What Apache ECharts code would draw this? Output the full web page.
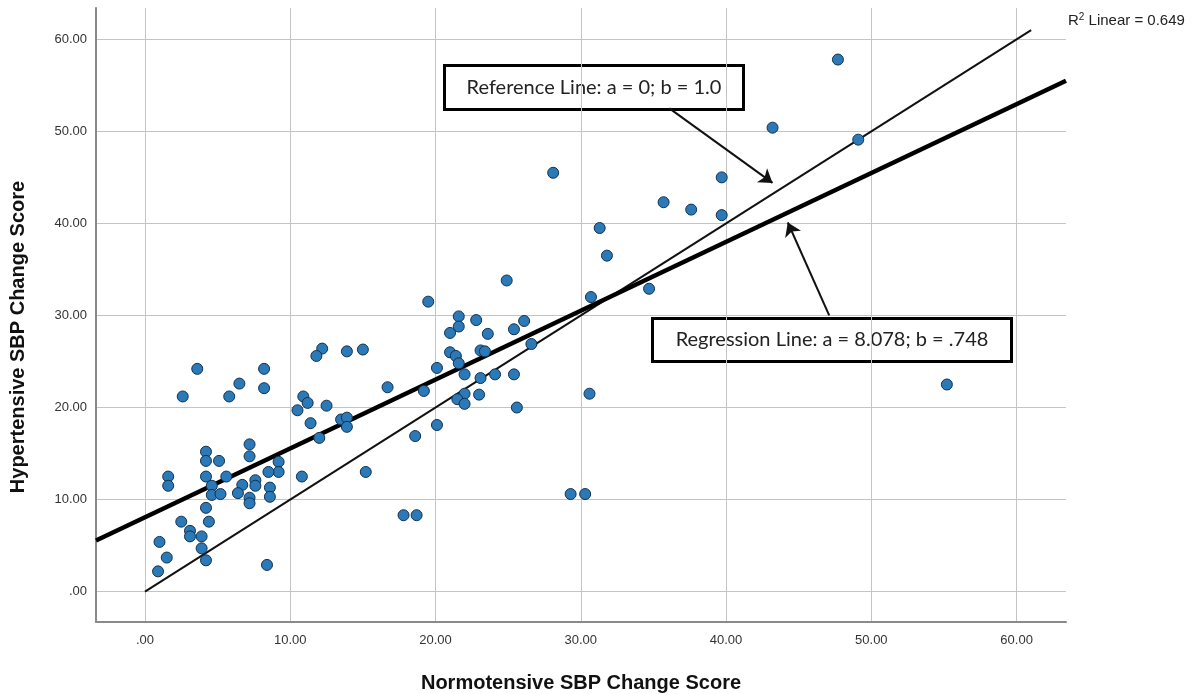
<!DOCTYPE html>
<html>
<head>
<meta charset="utf-8">
<script src="https://cdn.jsdelivr.net/npm/echarts@6/dist/echarts.min.js"></script>
<style>
  html, body { margin: 0; padding: 0; background: #fff; }
  #main { width: 1193px; height: 694px; }
</style>
</head>
<body>
<div id="main"></div>
<script>
// normotensive (x) and hypertensive (y) SBP change scores
var normo = [47.7, 43.2, 49.1, 39.7, 28.1, 35.7, 37.6, 39.7, 31.3, 31.8,
  34.7, 30.7, 24.9, 19.5, 21.6, 22.8, 26.1, 21.6, 21.0, 23.6,
  25.4, 26.6, 12.2, 11.8, 13.9, 15.0, 21.0, 21.4, 23.1, 23.4,
  21.6, 20.1, 22.0, 23.1, 24.1, 25.4, 16.7, 19.2, 22.0, 21.5,
  22.0, 23.0, 25.6, 30.6, 55.2, 10.9, 11.2, 10.5, 12.5, 11.4,
  13.5, 13.9, 13.9, 12.0, 20.1, 18.6, 15.2, 10.8, 17.8, 18.7,
  29.3, 30.3, 3.6, 8.2, 6.5, 8.2, 2.6, 5.8, 7.2, 7.2,
  4.2, 4.2, 5.1, 9.2, 9.2, 8.5, 1.6, 1.6, 4.2, 5.6,
  4.6, 6.7, 7.6, 7.6, 8.6, 4.6, 5.2, 6.4, 7.2, 7.2,
  8.6, 4.2, 2.5, 4.4, 3.1, 3.1, 3.9, 1.0, 3.9, 1.5,
  4.2, 0.9, 8.4];
var hyper = [57.8, 50.4, 49.1, 45.0, 45.5, 42.3, 41.5, 40.9, 39.5, 36.5,
  32.9, 32.0, 33.8, 31.5, 29.9, 29.5, 29.4, 28.8, 28.1, 28.0,
  28.5, 26.9, 26.4, 25.6, 26.1, 26.3, 26.0, 25.6, 26.2, 26.1,
  24.8, 24.3, 23.6, 23.2, 23.6, 23.6, 22.2, 21.8, 21.5, 20.9,
  20.4, 21.4, 20.0, 21.5, 22.5, 21.2, 20.5, 19.7, 20.2, 18.3,
  18.7, 18.9, 17.9, 16.7, 18.1, 16.9, 13.0, 12.5, 8.3, 8.3,
  10.6, 10.6, 24.2, 24.2, 22.6, 22.1, 21.2, 21.2, 16.0, 14.7,
  15.2, 14.2, 14.2, 14.1, 13.0, 13.0, 12.5, 11.5, 12.5, 12.5,
  11.5, 11.6, 12.1, 11.5, 11.3, 10.5, 10.6, 10.7, 10.2, 9.6,
  10.3, 9.1, 7.6, 7.6, 6.6, 6.0, 6.0, 5.4, 4.7, 3.7,
  3.4, 2.2, 2.9];

var tickValues = [0, 10, 20, 30, 40, 50, 60];
var xRange = [-3.37, 63.4];
var yRange = [-3.3, 63.4];

// fitted line as printed on the chart
var regA = 8.078, regB = 0.748;
// reference line y = x, drawn from 0 to where it stops in the picture
var refEnds = [0, 61];

var points = normo.map(function (x, i) { return [x, hyper[i]]; });
var regLine = xRange.map(function (x) { return [x, regA + regB * x]; });
var refLine = refEnds.map(function (x) { return [x, x]; });

function fmt(v) {
  return v === 0 ? '.00' : v.toFixed(2);
}

var axisFont = { fontFamily: 'Liberation Sans', fontSize: 13, color: '#333' };

var chart = echarts.init(document.getElementById('main'));
chart.setOption({
  animation: false,
  grid: { left: 96, right: 127, top: 8, bottom: 72, outerBoundsMode: 'none', containLabel: false },
  xAxis: {
    type: 'value',
    min: xRange[0], max: xRange[1],
    name: 'Normotensive SBP Change Score',
    nameLocation: 'middle',
    nameGap: 51,
    nameTextStyle: { fontFamily: 'Liberation Sans', fontSize: 20, fontWeight: 'bold', color: '#111' },
    axisLine: { onZero: false, lineStyle: { color: '#8a8a8a', width: 2 } },
    axisTick: { show: false, customValues: tickValues },
    axisLabel: Object.assign({ customValues: tickValues, formatter: fmt, margin: 12 }, axisFont),
    splitLine: { show: true, lineStyle: { color: '#c4c4c4', width: 1 } }
  },
  yAxis: {
    type: 'value',
    min: yRange[0], max: yRange[1],
    name: 'Hypertensive SBP Change Score',
    nameLocation: 'middle',
    nameGap: 68,
    nameTextStyle: { fontFamily: 'Liberation Sans', fontSize: 20, fontWeight: 'bold', color: '#111',
      padding: [0, 44, 0, 0] },
    axisLine: { show: true, onZero: false, lineStyle: { color: '#8a8a8a', width: 2 } },
    axisTick: { show: false, customValues: tickValues },
    axisLabel: Object.assign({ customValues: tickValues, formatter: fmt, margin: 9 }, axisFont),
    splitLine: { show: true, lineStyle: { color: '#c4c4c4', width: 1 } }
  },
  series: [
    {
      type: 'line',
      data: refLine,
      symbol: 'none',
      lineStyle: { color: '#111', width: 2 },
      z: 3
    },
    {
      type: 'line',
      data: regLine,
      symbol: 'none',
      lineStyle: { color: '#000', width: 4.5 },
      z: 3
    },
    {
      type: 'scatter',
      data: points,
      symbolSize: 11,
      itemStyle: { color: '#2c79b8', borderColor: '#10304f', borderWidth: 1, opacity: 1 },
      z: 4,
      markLine: {
        silent: true,
        symbol: ['none', 'arrow'],
        symbolSize: 13,
        label: { show: false },
        emphasis: { disabled: true },
        lineStyle: { color: '#111', width: 2, type: 'solid', opacity: 1 },
        itemStyle: { color: '#111' },
        data: [
          [{ coord: [36.1, 52.5] }, { coord: [43.2, 44.4] }],
          [{ coord: [47.1, 30.0] }, { coord: [44.25, 40.1] }]
        ]
      }
    }
  ],
  graphic: [
    {
      type: 'group',
      left: 443, top: 64,
      children: [
        { type: 'rect', shape: { x: 0, y: 0, width: 299, height: 44 },
          style: { fill: '#fff', stroke: '#000', lineWidth: 3 } },
        { type: 'text', x: 149.5, y: 22,
          style: { text: 'Reference Line: a = 0; b = 1.0', fontFamily: 'Lato', fontSize: 20,
            fill: '#222', align: 'center', verticalAlign: 'middle' } }
      ],
      z: 10
    },
    {
      type: 'group',
      left: 651, top: 317,
      children: [
        { type: 'rect', shape: { x: 0, y: 0, width: 359, height: 43 },
          style: { fill: '#fff', stroke: '#000', lineWidth: 3 } },
        { type: 'text', x: 179.5, y: 21.5,
          style: { text: 'Regression Line: a = 8.078; b = .748', fontFamily: 'Lato', fontSize: 20,
            fill: '#222', align: 'center', verticalAlign: 'middle' } }
      ],
      z: 10
    },
    {
      type: 'text',
      left: 1068, top: 12,
      style: {
        text: 'R{sup|2} Linear = 0.649',
        fontFamily: 'Liberation Sans', fontSize: 15, fill: '#222',
        rich: { sup: { fontSize: 10, fill: '#222', padding: [0, 0, 8, 0] } }
      },
      z: 10
    }
  ]
});
</script>
</body>
</html>
